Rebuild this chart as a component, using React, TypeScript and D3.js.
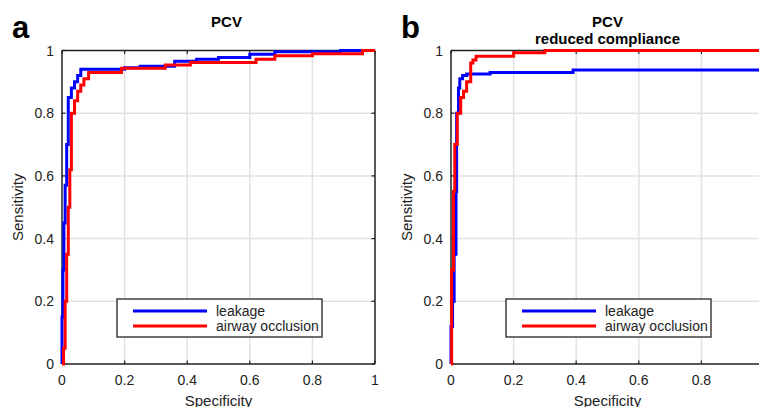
import React from 'react';
import * as d3 from 'd3';

// ROC points, stored as (x where the step rises, new sensitivity)
const leakA_x = [0, 0, 0.003, 0.006, 0.01, 0.015, 0.02, 0.03, 0.04, 0.05, 0.06, 0.2, 0.25, 0.36, 0.43, 0.5, 0.6, 0.68, 0.89, 1];
const leakA_y = [0, 0.15, 0.3, 0.45, 0.57, 0.7, 0.85, 0.88, 0.9, 0.92, 0.94, 0.945, 0.95, 0.966, 0.972, 0.978, 0.988, 0.996, 1, 1];
const occA_x = [0, 0.005, 0.01, 0.015, 0.02, 0.025, 0.03, 0.04, 0.05, 0.06, 0.07, 0.085, 0.19, 0.33, 0.41, 0.62, 0.68, 0.8, 0.96, 1];
const occA_y = [0, 0.05, 0.2, 0.35, 0.5, 0.62, 0.8, 0.84, 0.87, 0.89, 0.91, 0.93, 0.943, 0.954, 0.962, 0.972, 0.983, 0.99, 1, 1];

const leakB_x = [0, 0, 0.005, 0.01, 0.016, 0.018, 0.024, 0.028, 0.037, 0.05, 0.125, 0.39, 1];
const leakB_y = [0, 0.12, 0.2, 0.35, 0.55, 0.8, 0.88, 0.91, 0.92, 0.925, 0.93, 0.938, 0.938];
const occB_x = [0, 0.002, 0.008, 0.012, 0.02, 0.031, 0.04, 0.05, 0.063, 0.07, 0.08, 0.2, 0.3, 1];
const occB_y = [0, 0.3, 0.55, 0.7, 0.8, 0.85, 0.87, 0.9, 0.96, 0.97, 0.982, 0.993, 1, 1];

const ticks = [0, 0.2, 0.4, 0.6, 0.8, 1];
const tickLabelsA = ['0', '0.2', '0.4', '0.6', '0.8', '1'];
const tickLabelsB = ['0', '0.2', '0.4', '0.6', '0.8', ''];
const seriesNames = ['leakage', 'airway occlusion'];
const FONT = '"Liberation Sans", Arial, sans-serif';

const zip = (xs: number[], ys: number[]) => xs.map((x, i) => [x, ys[i]] as [number, number]);

function Panel({ left, letter, titles, leak, occ, xLabels, showRight }: any) {
  const top = 50.5, bottom = 364, w = 313;
  const x = d3.scaleLinear().domain([0, 1]).range([left, left + w]);
  const y = d3.scaleLinear().domain([0, 1]).range([bottom, top]);
  const line = d3.line<[number, number]>().x(d => x(d[0])).y(d => y(d[1])).curve(d3.curveStepAfter);
  const cx = left + w / 2;
  const lg = { x: left + 55, y: 299, w: 205, h: 38 };
  return (
    <g>
      <text x={left - 50} y={38} fontSize={31} fontWeight="bold" fontFamily={FONT}>{letter}</text>
      {titles.map((t: string, i: number) => (
        <text key={i} x={cx + (titles.length === 1 ? 8 : 0)} y={27 + i * 16.5} textAnchor="middle" fontSize={15} fontWeight="bold" fontFamily={FONT}>{t}</text>
      ))}
      {/* grid */}
      {ticks.slice(1, 5).map(t => (
        <g key={t}>
          <line x1={x(t)} x2={x(t)} y1={top} y2={bottom} stroke="#e2e2e2" strokeWidth={1.5} />
          <line x1={left} x2={left + w} y1={y(t)} y2={y(t)} stroke="#e2e2e2" strokeWidth={1.5} />
        </g>
      ))}
      {/* box */}
      <line x1={left} x2={left + w} y1={top} y2={top} stroke="#222" strokeWidth={1.5} />
      <line x1={left} x2={left + w} y1={bottom} y2={bottom} stroke="#222" strokeWidth={1.5} />
      <line x1={left} x2={left} y1={top} y2={bottom} stroke="#222" strokeWidth={1.5} />
      {showRight && <line x1={left + w} x2={left + w} y1={top} y2={bottom} stroke="#222" strokeWidth={1.5} />}
      {ticks.map((t, i) => (
        <g key={'t' + t}>
          <line x1={x(t)} x2={x(t)} y1={bottom} y2={bottom - 3.5} stroke="#222" strokeWidth={1.2} />
          <line x1={x(t)} x2={x(t)} y1={top} y2={top + 3.5} stroke="#222" strokeWidth={1.2} />
          <line x1={left} x2={left + 3.5} y1={y(t)} y2={y(t)} stroke="#222" strokeWidth={1.2} />
          {showRight && <line x1={left + w} x2={left + w - 3.5} y1={y(t)} y2={y(t)} stroke="#222" strokeWidth={1.2} />}
          <text x={x(t)} y={bottom + 21} textAnchor="middle" fontSize={14} fontFamily={FONT} fill="#222">{xLabels[i]}</text>
          <text x={left - 8} y={y(t) + 5} textAnchor="end" fontSize={14} fontFamily={FONT} fill="#222">{tickLabelsA[i]}</text>
        </g>
      ))}
      <text x={cx} y={406} textAnchor="middle" fontSize={15} fontFamily={FONT} fill="#222">Specificity</text>
      <text transform={`translate(${left - 39},${(top + bottom) / 2}) rotate(-90)`} textAnchor="middle" fontSize={15} fontFamily={FONT} fill="#222">Sensitivity</text>
      <path d={line(leak) || ''} fill="none" stroke="#0000ff" strokeWidth={3} />
      <path d={line(occ) || ''} fill="none" stroke="#ff0000" strokeWidth={3} />
      {/* legend */}
      <rect x={lg.x} y={lg.y} width={lg.w} height={lg.h} fill="#fff" stroke="#222" strokeWidth={1.3} />
      {seriesNames.map((n, i) => (
        <g key={n}>
          <line x1={lg.x + 16} x2={lg.x + 90} y1={lg.y + 12 + i * 15} y2={lg.y + 12 + i * 15} stroke={i === 0 ? '#0000ff' : '#ff0000'} strokeWidth={3} />
          <text x={lg.x + 99} y={lg.y + 17 + i * 15} fontSize={14} fontFamily={FONT} fill="#222">{n}</text>
        </g>
      ))}
    </g>
  );
}

export default function App() {
  return (
    <svg width={759} height={407} style={{ position: 'absolute', left: 0, top: 0, background: '#fff' }}>
      <rect width={759} height={407} fill="#fff" />
      <Panel left={62} letter="a" titles={['PCV']} leak={zip(leakA_x, leakA_y)} occ={zip(occA_x, occA_y)} xLabels={tickLabelsA} showRight={true} />
      <Panel left={451} letter="b" titles={['PCV', 'reduced compliance']} leak={zip(leakB_x, leakB_y)} occ={zip(occB_x, occB_y)} xLabels={tickLabelsB} showRight={false} />
    </svg>
  );
}
